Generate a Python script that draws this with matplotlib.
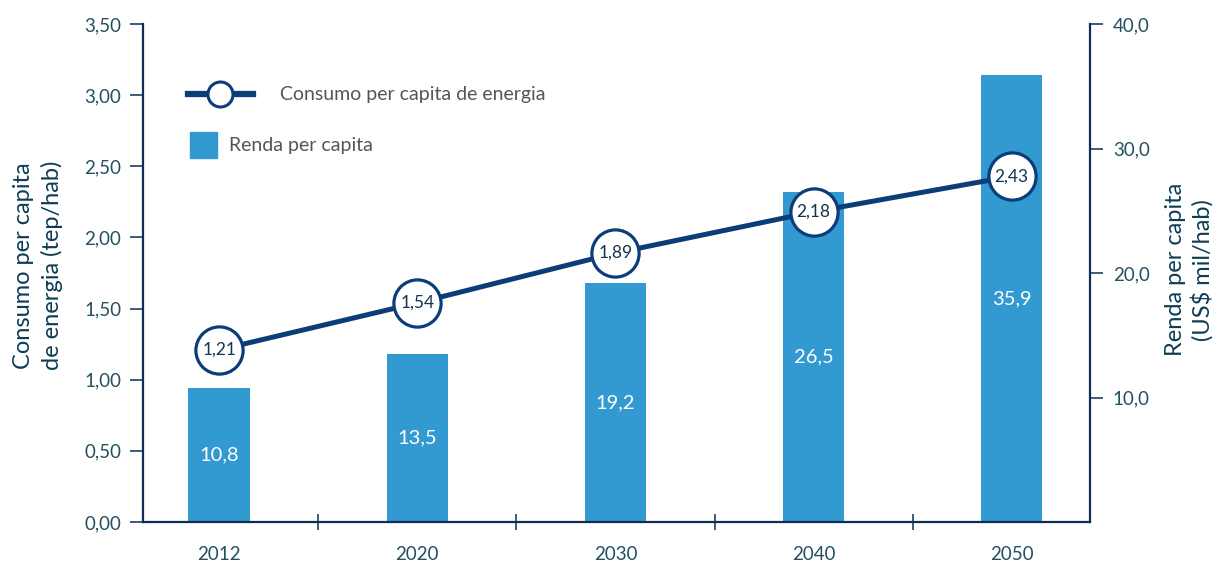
import numpy as np
import matplotlib.pyplot as plt
from matplotlib.lines import Line2D
from matplotlib.patches import Rectangle

plt.rcParams['font.family'] = ['Lato', 'DejaVu Sans']

# dados
anos = ["2012", "2020", "2030", "2040", "2050"]
consumo = [1.21, 1.54, 1.89, 2.18, 2.43]      # tep/hab (eixo esquerdo)
renda = [10.8, 13.5, 19.2, 26.5, 35.9]         # US$ mil/hab (eixo direito)

cor_barra = "#3399d1"
cor_linha = "#0b3d78"
cor_eixo = "#0d2d52"
cor_texto = "#24505f"

def virgula(v, n):
    return f"{v:.{n}f}".replace(".", ",")

fig = plt.figure(figsize=(12.21, 5.62), dpi=100)
ax = fig.add_axes([0.117, 0.0712, 0.7757, 0.886])
ax2 = ax.twinx()
x = np.arange(len(anos))

# barras (renda) no eixo direito
ax2.bar(x, renda, width=0.31, color=cor_barra, zorder=2)
for xi, r in zip(x, renda):
    ax2.text(xi, r / 2, virgula(r, 1), ha="center", va="center",
             color="white", fontsize=14.5)

# linha (consumo) no eixo esquerdo, por cima
ax.set_zorder(ax2.get_zorder() + 1)
ax.patch.set_visible(False)
ax.plot(x, consumo, color=cor_linha, lw=3.6, marker="o", ms=34,
        mfc="white", mec=cor_linha, mew=2.3, zorder=3)
for xi, c in zip(x, consumo):
    ax.text(xi, c, virgula(c, 2), ha="center", va="center",
            color="#16324f", fontsize=12.5, zorder=4)

ax.set_xlim(-0.385, 4.395)
ax.set_ylim(0, 3.5)
ax2.set_ylim(0, 40)
ax.set_yticks(np.arange(0, 3.51, 0.5))
ax.set_yticklabels([virgula(v, 2) for v in np.arange(0, 3.51, 0.5)])
ax2.set_yticks([10, 20, 30, 40])
ax2.set_yticklabels([virgula(v, 1) for v in [10, 20, 30, 40]])
ax.set_xticks(x)
ax.set_xticklabels(anos)
ax.set_xticks(np.arange(0.5, 4, 1), minor=True)

for a in (ax, ax2):
    a.spines["top"].set_visible(False)
    for s in ("left", "right", "bottom"):
        a.spines[s].set_color(cor_eixo)
        a.spines[s].set_linewidth(1.6)

ax.spines["right"].set_visible(False)
ax2.spines["left"].set_visible(False)
ax2.spines["bottom"].set_visible(False)

ax.tick_params(axis="y", length=9.5, width=1.1, color=cor_eixo, pad=6,
               labelsize=13.5, labelcolor=cor_texto)
ax2.tick_params(axis="y", length=9.5, width=1.1, color=cor_eixo, pad=7,
                labelsize=13.5, labelcolor=cor_texto)
ax.tick_params(axis="x", which="major", length=0, pad=17,
               labelsize=13.5, labelcolor=cor_texto)
ax.tick_params(axis="x", which="minor", direction="inout", length=12,
               width=1.1, color=cor_eixo)

fig.text(0.031, 0.528, "Consumo per capita\nde energia (tep/hab)", rotation=90,
         ha="center", va="center", fontsize=17, color="#0d3c55",
         linespacing=1.4)
fig.text(0.974, 0.52, "Renda per capita\n(US$ mil/hab)", rotation=90,
         ha="center", va="center", fontsize=17, color="#0d3c55",
         linespacing=1.25)

# legenda
ax.add_line(Line2D([0.0475, 0.116], [0.859, 0.859], transform=ax.transAxes,
                   color=cor_linha, lw=4.5, zorder=5))
ax.add_line(Line2D([0.0813], [0.859], transform=ax.transAxes, marker="o",
                   ms=18, mfc="white", mec=cor_linha, mew=2.2, zorder=6))
ax.text(0.1447, 0.859, "Consumo per capita de energia", transform=ax.transAxes,
        va="center", ha="left", fontsize=14, color="#555555")
ax.add_patch(Rectangle((0.0496, 0.731), 0.0285, 0.052, transform=ax.transAxes,
                       color=cor_barra, zorder=5))
ax.text(0.0908, 0.757, "Renda per capita", transform=ax.transAxes,
        va="center", ha="left", fontsize=14, color="#555555")

fig.savefig("out.png", dpi=100)
